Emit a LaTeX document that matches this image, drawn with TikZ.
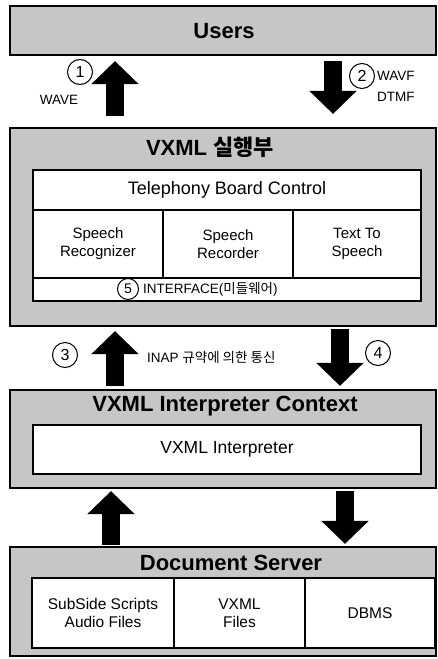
\documentclass[tikz,border=0pt]{standalone}
\usepackage{fontspec}
\setmainfont{Liberation Sans}
\newfontfamily\kr{Noto Sans CJK KR}
\usetikzlibrary{arrows.meta, positioning}
\newcommand{\fsz}[2]{\fontsize{#1}{#2}\selectfont}

\begin{document}
\begin{tikzpicture}[x=1pt, y=-1pt,
    layer/.style={draw, line width=2.2pt, fill=gray!45, inner sep=0pt, minimum width=426pt},
    cell/.style={draw, line width=1.3pt, fill=white, inner sep=0pt, align=center, font=\fsz{15}{18}},
    ttl/.style={font=\fsz{22}{24}\bfseries},
    num/.style={circle, draw, line width=1pt, fill=white, minimum size=25pt, inner sep=0pt, font=\fsz{16}{18}},
    lbl/.style={font=\fsz{13.5}{16}, align=left, inner sep=1pt},
    blk/.style={line width=18pt, -{Triangle[width=46pt, length=23pt]}}
]
\useasboundingbox (0,0) rectangle (438,659);

% -- layers --
\node[layer, minimum height=49pt] (users) at (223,30.5) {};
\node[layer, minimum height=198pt] (run) at (223,227) {};
\node[layer, minimum height=98pt] (ctx) at (223,439) {};
\node[layer, minimum height=109pt] (doc) at (223,601.5) {};

\node[ttl] (usersT) at (224,31) {Users};
\node[ttl] (runT) at (210,147) {VXML {\kr\bfseries 실행부}};
\node[ttl] (ctxT) at (225,406) {VXML Interpreter Context};
\node[ttl] (docT) at (231,563) {Document Server};

% -- VXML run part --
\node[cell, minimum width=388pt, minimum height=40pt, font=\fsz{18}{20}] (tel) at (227,190) {Telephony Board Control};
\node[cell, minimum width=130pt, minimum height=68pt] (rec) at (98,244) {Speech\\Recognizer};
\node[cell, minimum width=130pt, minimum height=68pt] (rcd) at (228,244) {Speech\\Recorder};
\node[cell, minimum width=128pt, minimum height=68pt] (tts) at (357,244) {Text To\\Speech};
\node[cell, minimum width=388pt, minimum height=23pt] (intf) at (227,289.5) {};
\node[num, minimum size=21pt, font=\fsz{14}{16}] (n5) at (128,289) {5};
\node[lbl, right=3pt of n5] (intfT) {INTERFACE({\kr 미들웨어})};

% -- interpreter --
\node[cell, minimum width=388pt, minimum height=49pt, font=\fsz{17.5}{20}] (interp) at (227,449.5) {VXML Interpreter};

% -- document server --
\node[cell, minimum width=142pt, minimum height=70pt, font=\fsz{15.5}{18.5}] (scr) at (103,613) {SubSide Scripts\\Audio Files};
\node[cell, minimum width=131pt, minimum height=70pt, font=\fsz{15.5}{18.5}] (vxf) at (239.5,613) {VXML\\Files};
\node[cell, minimum width=130pt, minimum height=70pt, font=\fsz{15.5}{18.5}] (dbms) at (370,613) {DBMS};

% -- flows --
\coordinate (xl) at (115,0);
\coordinate (xr) at (333,0);
\coordinate (xr2) at (340,0);
\coordinate (xl2) at (111,0);
\coordinate (xr3) at (345,0);
\draw[blk, shorten <=11pt, shorten >=5pt] (run.north -| xl) -- (users.south -| xl);
\draw[blk, shorten <=5pt, shorten >=13pt] (users.south -| xr) -- (run.north -| xr);
\draw[blk, shorten <=3pt, shorten >=4pt] (ctx.north -| xl) -- (run.south -| xl);
\draw[blk, shorten <=2pt, shorten >=3pt] (run.south -| xr2) -- (ctx.north -| xr2);
\draw[blk, shorten <=1pt, shorten >=2pt] (doc.north -| xl2) -- (ctx.south -| xl2);
\draw[blk, shorten <=2pt, shorten >=2pt] (ctx.south -| xr3) -- (doc.north -| xr3);

\node[num] (n1) at (80,72) {1};
\node[lbl] (wave) at (59,100) {WAVE};
\node[num] (n2) at (362,76) {2};
\node[lbl, anchor=west] (wavf) at (376,76) {WAVF};
\node[lbl, anchor=west] (dtmf) at (376,97) {DTMF};
\node[num] (n3) at (65,355) {3};
\node[lbl, anchor=west] (inap) at (146,357) {INAP {\kr 규약에 의한 통신}};
\node[num] (n4) at (378,353) {4};

\end{tikzpicture}
\end{document}
